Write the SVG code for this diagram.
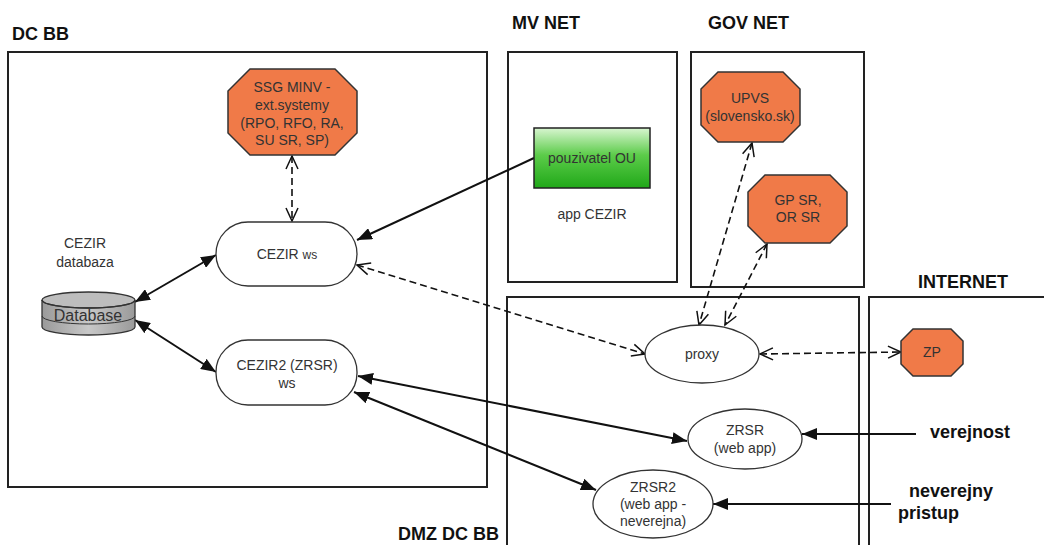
<svg xmlns="http://www.w3.org/2000/svg" width="1044" height="545" viewBox="0 0 1044 545">
<defs>
<style>
.zone{fill:none;stroke:#222;stroke-width:2}
.zl{font-family:"Liberation Sans",Arial,sans-serif;font-weight:bold;font-size:18px;fill:#111}
.t{font-family:"Liberation Sans",Arial,sans-serif;font-size:14px;fill:#333;text-anchor:middle}
.oct{fill:#F07A48;stroke:#333;stroke-width:1.5}
.ell{fill:#fff;stroke:#333;stroke-width:1.3}
.s{fill:none;stroke:#111;stroke-width:2}
.d{fill:none;stroke:#111;stroke-width:1.6;stroke-dasharray:7,4}
</style>
<marker id="fa" markerUnits="userSpaceOnUse" markerWidth="16" markerHeight="12" refX="15" refY="6" orient="auto-start-reverse"><path d="M0,0 L15,6 L0,12 z" fill="#111"/></marker>
<marker id="oa" markerUnits="userSpaceOnUse" markerWidth="16" markerHeight="14" refX="14" refY="7" orient="auto-start-reverse"><path d="M1,1 L14,7 L1,13" fill="none" stroke="#111" stroke-width="1.5"/></marker>
<linearGradient id="grn" x1="0" y1="0" x2="0" y2="1"><stop offset="0" stop-color="#d8f5d0"/><stop offset="0.45" stop-color="#5ccc4a"/><stop offset="1" stop-color="#20a818"/></linearGradient>
<linearGradient id="dbg" x1="0" y1="0" x2="1" y2="0"><stop offset="0" stop-color="#9a9a9a"/><stop offset="0.5" stop-color="#c8c8c8"/><stop offset="1" stop-color="#9a9a9a"/></linearGradient>
</defs>
<rect width="1044" height="545" fill="#fff"/>

<g id="zones">
<rect class="zone" x="8" y="52" width="479" height="435"/>
<text class="zl" x="12" y="40">DC BB</text>
<rect class="zone" x="508" y="52" width="169" height="230"/>
<text class="zl" x="512" y="29">MV NET</text>
<rect class="zone" x="691" y="52" width="173" height="235"/>
<text class="zl" x="708" y="29">GOV NET</text>
<path class="zone" d="M507,548 V297 H859 V548"/>
<text class="zl" x="398" y="540">DMZ DC BB</text>
<path class="zone" d="M869,548 V297 H1050"/>
<text class="zl" x="918" y="288">INTERNET</text>
</g>

<g id="connectors">
<line class="d" x1="292" y1="156" x2="292" y2="221" marker-start="url(#oa)" marker-end="url(#oa)"/>
<line class="s" x1="534" y1="158" x2="357" y2="240" marker-end="url(#fa)"/>
<line class="s" x1="216" y1="255" x2="135" y2="302" marker-start="url(#fa)" marker-end="url(#fa)"/>
<line class="s" x1="135" y1="320" x2="216" y2="372" marker-start="url(#fa)" marker-end="url(#fa)"/>
<line class="d" x1="357" y1="265" x2="645" y2="354" marker-start="url(#oa)" marker-end="url(#oa)"/>
<line class="s" x1="358" y1="376" x2="687" y2="441" marker-start="url(#fa)" marker-end="url(#fa)"/>
<line class="s" x1="354" y1="392" x2="596" y2="490" marker-start="url(#fa)" marker-end="url(#fa)"/>
<line class="d" x1="752" y1="143" x2="699" y2="325" marker-start="url(#oa)" marker-end="url(#oa)"/>
<line class="d" x1="767" y1="244" x2="725" y2="325" marker-start="url(#oa)" marker-end="url(#oa)"/>
<line class="d" x1="760" y1="354" x2="901" y2="352" marker-start="url(#oa)" marker-end="url(#oa)"/>
<line class="s" x1="916" y1="434" x2="802" y2="434" marker-end="url(#fa)"/>
<line class="s" x1="891" y1="504" x2="713" y2="504" marker-end="url(#fa)"/>
</g>

<g id="ssg">
<polygon class="oct" points="250,69 335,69 357,91 357,133 335,155 250,155 228,133 228,91"/>
<text class="t" x="292" y="92" font-size="15">SSG MINV -</text>
<text class="t" x="292" y="110" font-size="15">ext.systemy</text>
<text class="t" x="292" y="128" font-size="15">(RPO, RFO, RA,</text>
<text class="t" x="292" y="145" font-size="15">SU SR, SP)</text>
</g>

<g id="cezir-ws">
<rect class="ell" x="216" y="222" width="141" height="64" rx="32" ry="32"/>
<text class="t" x="287" y="259">CEZIR <tspan font-size="12">ws</tspan></text>
</g>

<g id="cezir2-ws">
<rect class="ell" x="216" y="340" width="141" height="65" rx="32" ry="32"/>
<text class="t" x="287" y="370">CEZIR2 (ZRSR)</text>
<text class="t" x="287" y="388" font-size="12">ws</text>
</g>

<g id="database">
<text class="t" x="85" y="248">CEZIR</text>
<text class="t" x="85" y="267">databaza</text>
<path d="M42,300 V327 A46.5,8 0 0 0 135,327 V300" fill="url(#dbg)" stroke="#333" stroke-width="1.3"/>
<ellipse cx="88.5" cy="300" rx="46.5" ry="8" fill="#bdbdbd" stroke="#333" stroke-width="1.3"/>
<text x="88" y="321" font-family="'Liberation Sans',Arial,sans-serif" font-size="16" fill="#333" text-anchor="middle">Database</text>
<path d="M42,300 A46.5,8 0 0 0 135,300" fill="none" stroke="#333" stroke-width="1.3"/>
<path d="M42,316 A46.5,8 0 0 0 135,316" fill="none" stroke="#333" stroke-width="1"/>
</g>

<g id="pouzivatel">
<rect x="534" y="128" width="116" height="60" fill="url(#grn)" stroke="#222" stroke-width="1.5"/>
<text class="t" x="592" y="163">pouzivatel OU</text>
<text class="t" x="592" y="219">app CEZIR</text>
</g>

<g id="upvs">
<polygon class="oct" points="718,72 783,72 800,89 800,125 783,142 718,142 701,125 701,89"/>
<text class="t" x="750" y="103">UPVS</text>
<text class="t" x="750" y="121">(slovensko.sk)</text>
</g>

<g id="gpsr">
<polygon class="oct" points="765,175 830,175 847,192 847,226 830,243 765,243 748,226 748,192"/>
<text class="t" x="798" y="205">GP SR,</text>
<text class="t" x="798" y="222">OR SR</text>
</g>

<g id="proxy">
<ellipse class="ell" cx="702" cy="354" rx="57" ry="29"/>
<text class="t" x="702" y="359">proxy</text>
</g>

<g id="zp">
<polygon class="oct" points="913,329 951,329 963,341 963,364 951,376 913,376 901,364 901,341"/>
<text class="t" x="932" y="357">ZP</text>
</g>

<g id="zrsr">
<ellipse class="ell" cx="745" cy="439" rx="57" ry="30"/>
<text class="t" x="745" y="435">ZRSR</text>
<text class="t" x="745" y="453">(web app)</text>
</g>

<g id="zrsr2">
<ellipse class="ell" cx="653" cy="504" rx="60" ry="34"/>
<text class="t" x="653" y="492">ZRSR2</text>
<text class="t" x="653" y="509">(web app -</text>
<text class="t" x="653" y="526">neverejna)</text>
</g>

<g id="labels">
<text class="zl" x="930" y="438">verejnost</text>
<text class="zl" x="909" y="497">neverejny</text>
<text class="zl" x="898" y="519">pristup</text>
</g>
</svg>
